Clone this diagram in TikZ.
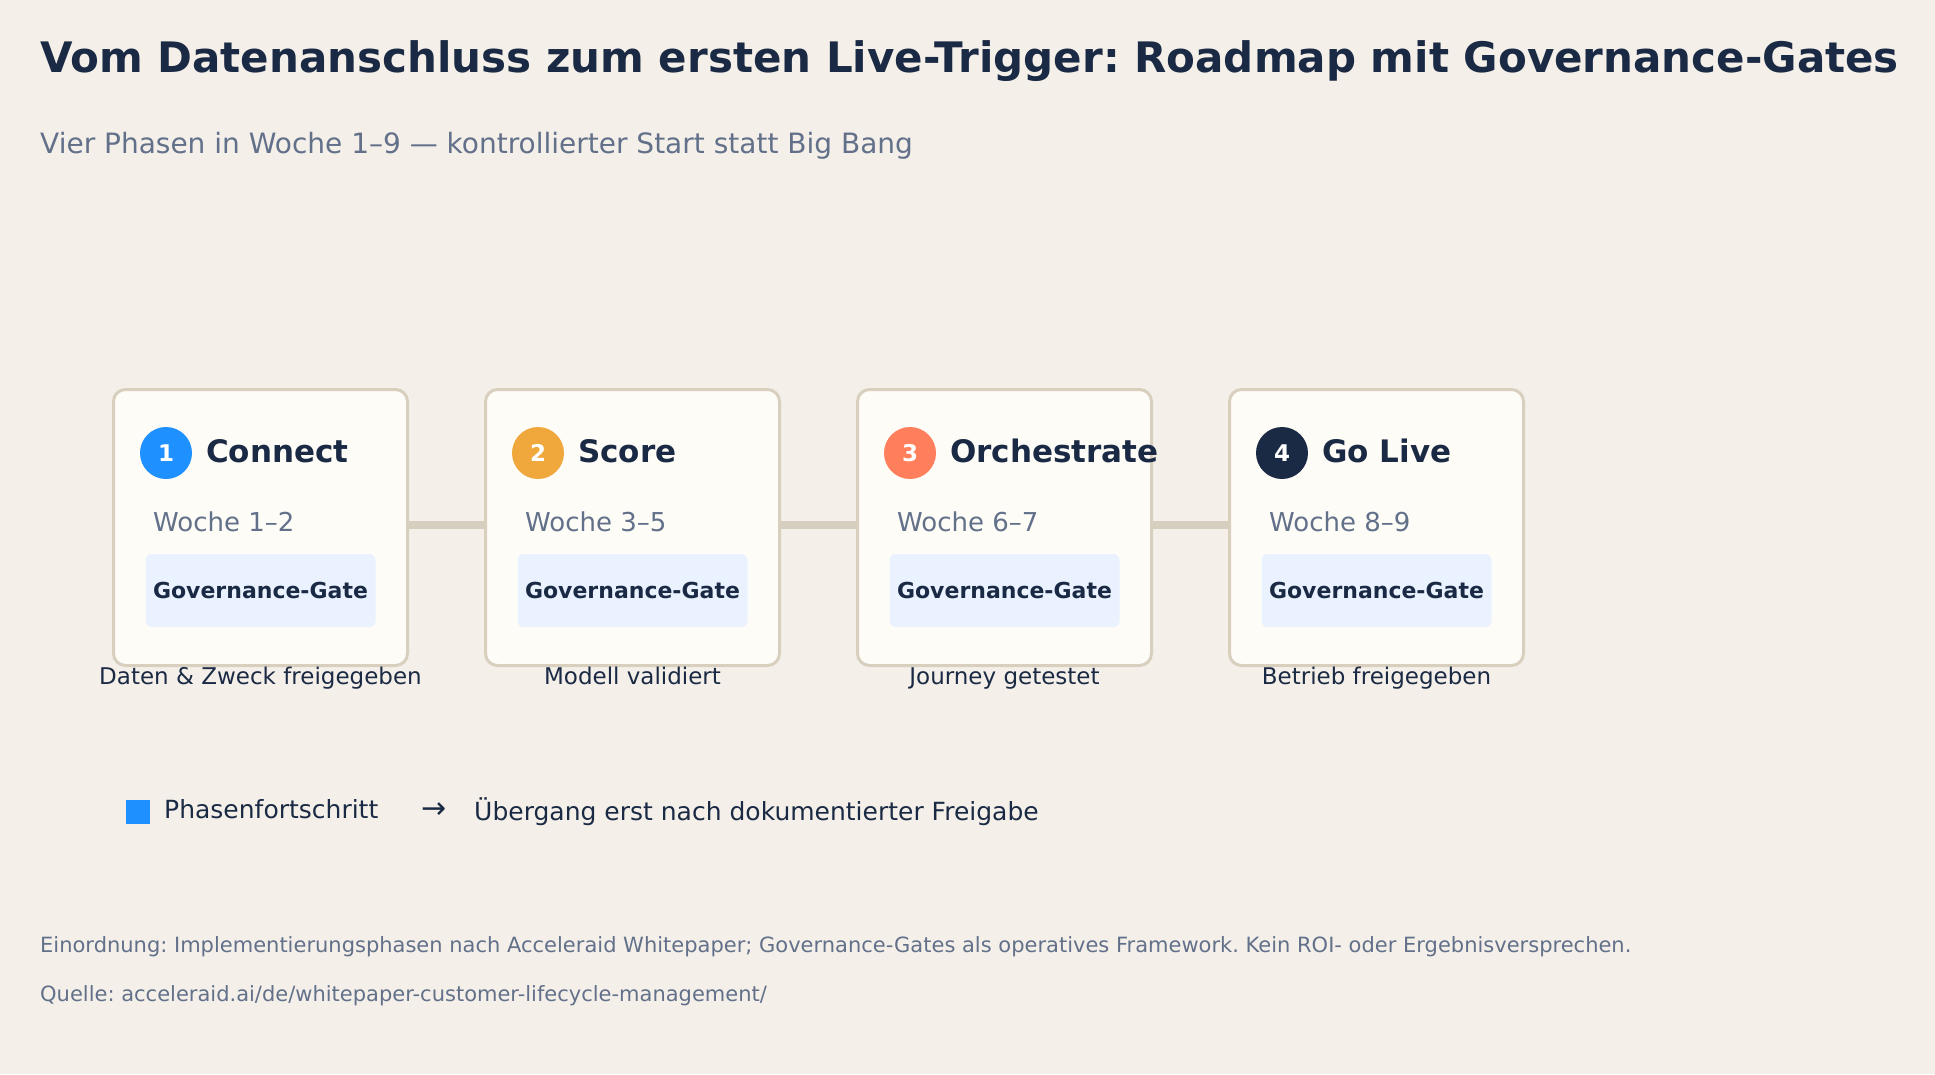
\documentclass[tikz,border=0pt]{standalone}
\usepackage{fontspec}
\setmainfont{DejaVu Sans}
\usetikzlibrary{positioning}
\definecolor{bg}{HTML}{F4F0E9}
\definecolor{cardfill}{HTML}{FEFCF7}
\definecolor{cardline}{HTML}{D8CFBF}
\definecolor{linkcol}{HTML}{D6CFBF}
\definecolor{navy}{HTML}{1B2A44}
\definecolor{slate}{HTML}{62708A}
\definecolor{phaseblue}{HTML}{1E90FF}
\definecolor{phaseorange}{HTML}{F0A83C}
\definecolor{phasecoral}{HTML}{FF7F5C}
\definecolor{gatefill}{HTML}{EAF2FF}
\newcommand{\pxsize}[1]{\fontsize{#1}{#1}\selectfont}
\frenchspacing
\begin{document}
\begin{tikzpicture}[x=1pt, y=-1pt, node distance={75pt},
  card/.style = {draw=cardline, line width=3pt, fill=cardfill, rounded corners=12pt, minimum width=294pt, minimum height=276pt, inner sep=0pt},
  badge/.style = {circle, minimum size=52pt, inner sep=0pt, text=white, font=\bfseries\pxsize{23}},
  phase/.style = {inner sep=0pt, anchor=base west, text=navy, font=\bfseries\pxsize{31}},
  week/.style = {inner sep=0pt, anchor=base west, text=slate, font=\pxsize{26}},
  gate/.style = {fill=gatefill, rounded corners=6pt, minimum width=230pt, minimum height=73pt, inner sep=0pt, text=navy, font=\bfseries\pxsize{22}},
  note/.style = {inner sep=0pt, anchor=base, text=navy, font=\pxsize{23}},
  plain/.style = {inner sep=0pt, anchor=base west},
  link/.style = {draw=linkcol, line width=8pt}]
  \fill[bg] (0,0) rectangle (1935,1074);
  \useasboundingbox (0,0) rectangle (1935,1074);
  % header
  \node[plain, text=navy, font=\bfseries\pxsize{42}] (title) at (40,72) {Vom Datenanschluss zum ersten Live-Trigger: Roadmap mit Governance-Gates};
  \node[plain, text=slate, font=\pxsize{28}] (subtitle) at (40,153) {Vier Phasen in Woche 1–9 — kontrollierter Start statt Big Bang};
  % cards
  \node[card] (c1) at (260.5,527.5) {};
  \node[card] (c2) [right=of c1] {};
  \node[card] (c3) [right=of c2] {};
  \node[card] (c4) [right=of c3] {};
  \draw[link] ([yshift=3pt]c1.east) -- ([yshift=3pt]c2.west);
  \draw[link] ([yshift=3pt]c2.east) -- ([yshift=3pt]c3.west);
  \draw[link] ([yshift=3pt]c3.east) -- ([yshift=3pt]c4.west);
  \node[badge, fill=phaseblue] (b1) at ([xshift=54pt,yshift=-65pt]c1.north west) {1};
  \node[badge, fill=phaseorange] (b2) at ([xshift=54pt,yshift=-65pt]c2.north west) {2};
  \node[badge, fill=phasecoral] (b3) at ([xshift=54pt,yshift=-65pt]c3.north west) {3};
  \node[badge, fill=navy] (b4) at ([xshift=54pt,yshift=-65pt]c4.north west) {4};
  \node[phase] (p1) at ([xshift=94pt,yshift=-74pt]c1.north west) {Connect};
  \node[phase] (p2) at ([xshift=94pt,yshift=-74pt]c2.north west) {Score};
  \node[phase] (p3) at ([xshift=94pt,yshift=-74pt]c3.north west) {Orchestrate};
  \node[phase] (p4) at ([xshift=94pt,yshift=-74pt]c4.north west) {Go Live};
  \node[week] (w1) at ([xshift=41pt,yshift=-143pt]c1.north west) {Woche 1–2};
  \node[week] (w2) at ([xshift=41pt,yshift=-143pt]c2.north west) {Woche 3–5};
  \node[week] (w3) at ([xshift=41pt,yshift=-143pt]c3.north west) {Woche 6–7};
  \node[week] (w4) at ([xshift=41pt,yshift=-143pt]c4.north west) {Woche 8–9};
  \node[gate] (g1) at ([yshift=-63pt]c1.center) {Governance-Gate};
  \node[gate] (g2) at ([yshift=-63pt]c2.center) {Governance-Gate};
  \node[gate] (g3) at ([yshift=-63pt]c3.center) {Governance-Gate};
  \node[gate] (g4) at ([yshift=-63pt]c4.center) {Governance-Gate};
  \node[note] (n1) at ([yshift=-17pt]c1.south) {Daten \& Zweck freigegeben};
  \node[note] (n2) at ([yshift=-17pt]c2.south) {Modell validiert};
  \node[note] (n3) at ([yshift=-17pt]c3.south) {Journey getestet};
  \node[note] (n4) at ([yshift=-17pt]c4.south) {Betrieb freigegeben};
  % legend
  \node[fill=phaseblue, minimum size=24pt, inner sep=0pt] (key) at (137.5,811.5) {};
  \node[plain, text=navy, font=\pxsize{25}] (keytext) at (164,818) {Phasenfortschritt};
  \node[plain, text=navy, font=\pxsize{30}] (arrow) at (421,818) {→};
  \node[plain, text=navy, font=\pxsize{25}] (arrowtext) at (474,820) {Übergang erst nach dokumentierter Freigabe};
  % footer
  \node[plain, text=slate, font=\pxsize{21}] (scope) at (40,952) {Einordnung: Implementierungsphasen nach Acceleraid Whitepaper; Governance-Gates als operatives Framework. Kein ROI- oder Ergebnisversprechen.};
  \node[plain, text=slate, font=\pxsize{21}] (source) at (40,1001) {Quelle: acceleraid.ai/de/whitepaper-customer-lifecycle-management/};
\end{tikzpicture}
\end{document}
